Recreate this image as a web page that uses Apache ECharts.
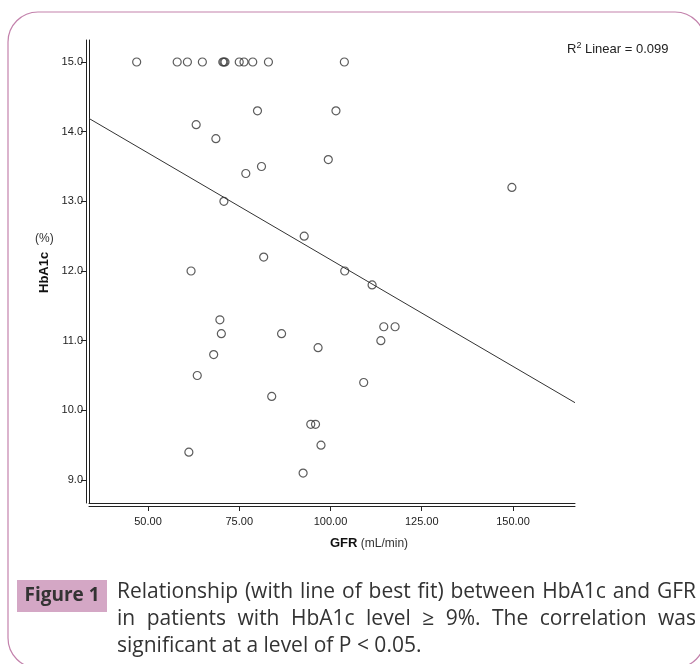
<!DOCTYPE html>
<html>
<head>
<meta charset="utf-8">
<script src="https://cdn.jsdelivr.net/npm/echarts@6/dist/echarts.min.js"></script>
<style>
html,body{margin:0;padding:0;background:#fff;}
#chart{width:700px;height:664px;}
</style>
</head>
<body>
<div id="chart"></div>
<script>
// ---- data ----
const gfr = [46.9, 58.0, 60.8, 64.9, 70.5, 70.8, 71.1, 75.0, 76.3, 78.7, 83.0, 103.8,
  80.0, 101.5, 63.2, 68.6, 99.4, 81.1, 76.8, 149.7, 70.8, 92.8, 61.8, 81.7, 103.9, 111.4,
  69.7, 70.1, 86.6, 114.6, 117.7, 113.8, 96.6, 68.0, 63.5, 109.1, 83.9, 94.6, 95.9, 97.4, 61.2, 92.5];
const hba1c = [15.0, 15.0, 15.0, 15.0, 15.0, 15.0, 15.0, 15.0, 15.0, 15.0, 15.0, 15.0,
  14.3, 14.3, 14.1, 13.9, 13.6, 13.5, 13.4, 13.2, 13.0, 12.5, 12.0, 12.2, 12.0, 11.8,
  11.3, 11.1, 11.1, 11.2, 11.2, 11.0, 10.9, 10.8, 10.5, 10.4, 10.2, 9.8, 9.8, 9.5, 9.4, 9.1];
const fitX = [33.84, 166.99];
const fitY = [14.19, 10.11];
const xTicks = [50, 75, 100, 125, 150];
const yTicks = [9, 10, 11, 12, 13, 14, 15];
const xRange = [33.84, 166.99];
const yRange = [8.670, 15.316];
const r2Text = 'Linear = 0.099';
const captionLines = [
  'Relationship (with line of best fit) between HbA1c and GFR',
  'in patients with HbA1c level \u2265 9%. The correlation was',
  'significant at a level of P < 0.05.'
];

const points = gfr.map((x, i) => [x, hba1c[i]]);
const fitLine = fitX.map((x, i) => [x, fitY[i]]);

const chart = echarts.init(document.getElementById('chart'), null, {renderer: 'canvas'});

// caption layout (justified)
const capFont = '"Open Sans", sans-serif';
const capLeft = 117, capRight = 696;
const capW = capRight - capLeft;
const ctx = document.createElement('canvas').getContext('2d');
function measure(t, size) { ctx.font = size + 'px ' + capFont; return ctx.measureText(t).width; }
let capSize = 18 * (capW - 8) / measure(captionLines[0], 18);
capSize = Math.round(capSize * 2) / 2;
const capY = [592, 619, 646];
const capGraphics = [];
captionLines.forEach((line, li) => {
  if (li === captionLines.length - 1) {
    capGraphics.push({type: 'text', x: capLeft, y: capY[li],
      style: {text: line, font: capSize + 'px ' + capFont, fill: '#333', verticalAlign: 'middle'}});
    return;
  }
  const words = line.split(' ');
  const widths = words.map(w => measure(w, capSize));
  const total = widths.reduce((a, b) => a + b, 0);
  const gap = (capW - total) / (words.length - 1);
  let x = capLeft;
  words.forEach((w, wi) => {
    capGraphics.push({type: 'text', x: x, y: capY[li],
      style: {text: w, font: capSize + 'px ' + capFont, fill: '#333', verticalAlign: 'middle'}});
    x += widths[wi] + gap;
  });
});

const axisColor = '#222';
const option = {
  animation: false,
  backgroundColor: '#fff',
  grid: {left: 89, right: 125, top: 40, bottom: 161, containLabel: false},
  xAxis: [
    {
      type: 'value', min: xRange[0], max: xRange[1], position: 'bottom', offset: 3,
      axisLine: {show: true, onZero: false, lineStyle: {color: axisColor, width: 1}},
      axisTick: {show: true, customValues: xTicks, length: 5, lineStyle: {color: axisColor}},
      axisLabel: {customValues: xTicks, formatter: v => v.toFixed(2), fontSize: 11,
        fontFamily: 'Liberation Sans, Arial', color: axisColor, margin: 10},
      splitLine: {show: false}
    },
    {
      type: 'value', min: xRange[0], max: xRange[1], position: 'bottom', offset: 0,
      axisLine: {show: true, onZero: false, lineStyle: {color: axisColor, width: 1}},
      axisTick: {show: false}, axisLabel: {show: false}, splitLine: {show: false}
    }
  ],
  yAxis: [
    {
      type: 'value', min: yRange[0], max: yRange[1], position: 'left', offset: 3,
      axisLine: {show: true, onZero: false, lineStyle: {color: axisColor, width: 1}},
      axisTick: {show: true, customValues: yTicks, length: 5, lineStyle: {color: axisColor}},
      axisLabel: {customValues: yTicks, formatter: v => v.toFixed(1), fontSize: 11,
        fontFamily: 'Liberation Sans, Arial', color: axisColor, margin: 3},
      splitLine: {show: false}
    },
    {
      type: 'value', min: yRange[0], max: yRange[1], position: 'left', offset: 0,
      axisLine: {show: true, onZero: false, lineStyle: {color: axisColor, width: 1}},
      axisTick: {show: false}, axisLabel: {show: false}, splitLine: {show: false}
    }
  ],
  series: [
    {
      type: 'line', data: fitLine, xAxisIndex: 0, yAxisIndex: 0, symbol: 'none',
      lineStyle: {color: '#333', width: 1}, z: 2, silent: true
    },
    {
      type: 'scatter', data: points, xAxisIndex: 0, yAxisIndex: 0, symbol: 'circle', symbolSize: 8,
      itemStyle: {color: 'rgba(255,255,255,0)', borderColor: '#333', borderWidth: 1.2}, z: 3
    }
  ],
  graphic: [
    {type: 'rect', shape: {x: 8, y: 12, width: 697, height: 656, r: 30},
      style: {fill: 'none', stroke: '#c382ac', lineWidth: 1.2}, z: -1},
    {type: 'text', left: 567, top: 41,
      style: {text: '{a|R}{s|2}{a| ' + r2Text + '}',
        rich: {a: {fontSize: 13, fontFamily: 'Liberation Sans, Arial', fill: '#222'},
          s: {fontSize: 9, fontFamily: 'Liberation Sans, Arial', fill: '#222', padding: [0, 0, 7, 0]}}}},
    {type: 'text', x: 44, y: 293, rotation: Math.PI / 2,
      style: {text: 'HbA1c', font: 'bold 13px "Liberation Sans", Arial', fill: '#111',
        align: 'left', verticalAlign: 'middle'}},
    {type: 'text', left: 35, top: 233,
      style: {text: '(%)', font: '12px "Liberation Sans", Arial', fill: '#333'}},
    {type: 'text', left: 330, top: 537,
      style: {text: '{b|GFR} {n|(mL/min)}',
        rich: {b: {font: 'bold 13px "Liberation Sans", Arial', fill: '#111'},
          n: {font: '12px "Liberation Sans", Arial', fill: '#333'}}}},
    {type: 'rect', shape: {x: 17, y: 580, width: 90, height: 32}, style: {fill: '#d4a7c5'}},
    {type: 'text', x: 62, y: 596,
      style: {text: 'Figure 1', font: 'bold ' + Math.min(capSize, 19) + 'px ' + capFont, fill: '#333',
        align: 'center', verticalAlign: 'middle'}}
  ].concat(capGraphics)
};
chart.setOption(option);
</script>
</body>
</html>
